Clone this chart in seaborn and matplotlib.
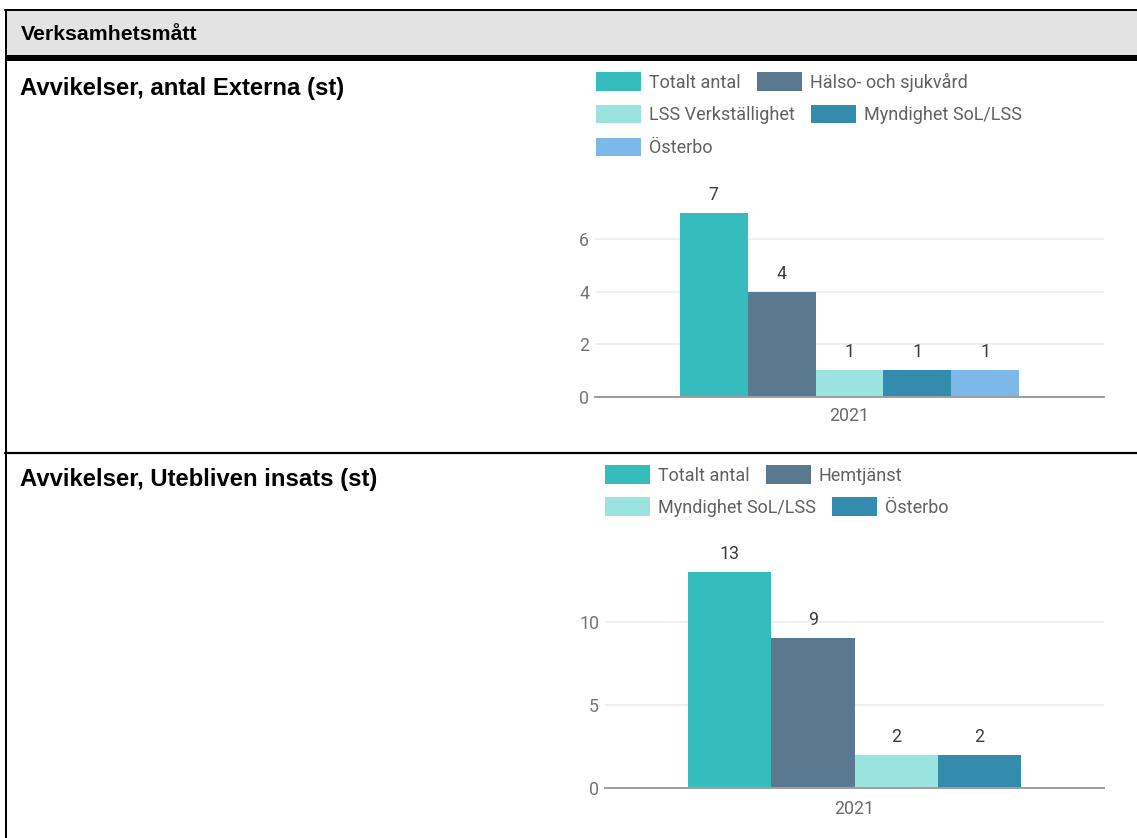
import matplotlib
matplotlib.use("Agg")
import matplotlib.pyplot as plt
import seaborn as sns
import pandas as pd
from matplotlib.patches import Rectangle
from matplotlib.lines import Line2D

# ---------------- data ----------------
header_title = "Verksamhetsmått"

title1 = "Avvikelser, antal Externa (st)"
years1 = ["2021"]
series1 = ["Totalt antal", "Hälso- och sjukvård", "LSS Verkställighet",
           "Myndighet SoL/LSS", "Österbo"]
values1 = [7, 4, 1, 1, 1]
colors1 = ["#37BCBD", "#5B7891", "#9AE3DE", "#338BAD", "#7DB9E8"]
yticks1 = [0, 2, 4, 6]
legend_rows1 = [[0, 1], [2, 3], [4]]

title2 = "Avvikelser, Utebliven insats (st)"
years2 = ["2021"]
series2 = ["Totalt antal", "Hemtjänst", "Myndighet SoL/LSS", "Österbo"]
values2 = [13, 9, 2, 2]
colors2 = ["#37BCBD", "#5B7891", "#9AE3DE", "#338BAD"]
yticks2 = [0, 5, 10]
legend_rows2 = [[0, 1], [2, 3]]

# ---------------- figure ----------------
W, H = 1137, 838
DPI = 100
sns.set_theme(style="white")
plt.rcParams["font.family"] = ["Roboto", "DejaVu Sans"]
fig = plt.figure(figsize=(W / DPI, H / DPI), dpi=DPI)

def fx(x):
    return x / W

def fy(y):
    return 1 - y / H

PX = 72 / DPI  # points per pixel

# background table
bg = fig.add_axes([0, 0, 1, 1], zorder=0)
bg.set_xlim(0, W)
bg.set_ylim(H, 0)
bg.axis("off")
bg.add_patch(Rectangle((6, 11), W - 6, 44, facecolor="#e3e3e3", edgecolor="none"))
bg.add_patch(Rectangle((5, 55), W - 5, 6, facecolor="black", edgecolor="none"))
bg.add_line(Line2D([5, W], [10.5, 10.5], color="black", lw=2 * PX))
bg.add_line(Line2D([6, 6], [10, H], color="black", lw=2 * PX))
bg.add_line(Line2D([5, W], [452.5, 452.5], color="black", lw=2.2 * PX))

title_font = dict(family=["Liberation Sans", "DejaVu Sans"], weight="bold",
                  color="black")
bg.text(20.5, 40, header_title, va="baseline", ha="left", fontsize=15.3,
        **title_font)
bg.text(20.5, 94.5, title1, va="baseline", ha="left", fontsize=17.2,
        **title_font)
bg.text(20.5, 485.5, title2, va="baseline", ha="left", fontsize=17.2,
        **title_font)


def draw_chart(left, right, base, px_per_unit, ymax, years, series, values,
               colors, yticks, legend_rows, legend_x, legend_ys, xpad):
    top = base - ymax * px_per_unit
    ax = fig.add_axes([fx(left), fy(base), (right - left) / W, (base - top) / H],
                      zorder=2)
    ax.patch.set_alpha(0)
    df = pd.DataFrame({
        "År": [years[0]] * len(series),
        "Enhet": series,
        "Antal": values,
    })
    sns.barplot(data=df, x="År", y="Antal", hue="Enhet", hue_order=series,
                palette=dict(zip(series, colors)), saturation=1, width=0.667,
                dodge=True, linewidth=0, ax=ax, zorder=3)
    handles, labels = ax.get_legend_handles_labels()
    if ax.get_legend() is not None:
        ax.get_legend().remove()
    ax.set_ylim(0, ymax)
    ax.set_xlim(-0.5, 0.5)
    ax.set_yticks(yticks)
    ax.set_xlabel("")
    ax.set_ylabel("")
    for s in ["top", "right", "left"]:
        ax.spines[s].set_visible(False)
    ax.spines["bottom"].set_color("#9e9e9e")
    ax.spines["bottom"].set_linewidth(2 * PX)
    ax.spines["bottom"].set_zorder(4)
    ax.yaxis.grid(True, color="#e8ecf0", linewidth=1.5 * PX, zorder=0)
    ax.xaxis.grid(False)
    ax.set_axisbelow(True)
    ax.tick_params(axis="y", length=0, pad=4.3, labelsize=12.8, labelcolor="#757575")
    ax.tick_params(axis="x", length=0, pad=xpad, labelsize=12.8, labelcolor="#6b6b6b")
    for c in ax.containers:
        ax.bar_label(c, fmt="%d", padding=6.5, fontsize=12.8, color="#3c3c3c")

    fs = 13
    fs_px = fs / PX
    for row, yc in zip(legend_rows, legend_ys):
        fig.legend([handles[i] for i in row], [labels[i] for i in row],
                   loc="center left", bbox_to_anchor=(fx(legend_x), fy(yc)),
                   ncol=len(row), frameon=False, borderpad=0, borderaxespad=0,
                   handlelength=45 / fs_px, handleheight=22 / fs_px,
                   handletextpad=8 / fs_px, columnspacing=16 / fs_px,
                   fontsize=fs, labelcolor="#616161")
    return ax


draw_chart(595, 1104, 396.7, 26.28, 8, years1, series1, values1, colors1,
           yticks1, legend_rows1, 596, [82, 114.5, 147.5], 7.5)
draw_chart(605, 1104, 788, 16.63, 14, years2, series2, values2, colors2,
           yticks2, legend_rows2, 605, [475, 507], 8.5)

fig.savefig("out.png", dpi=DPI)
